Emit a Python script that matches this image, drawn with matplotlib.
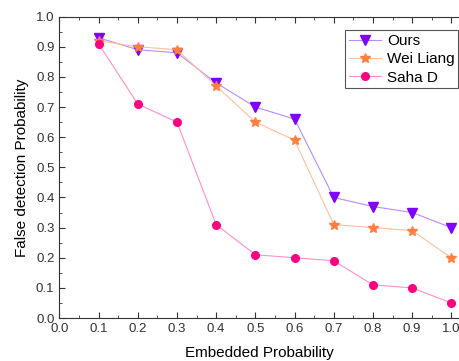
import matplotlib
matplotlib.use("Agg")
import matplotlib.pyplot as plt
from matplotlib.ticker import MultipleLocator

plt.rcParams["font.family"] = ["Liberation Sans", "DejaVu Sans"]

embedded = [0.1, 0.2, 0.3, 0.4, 0.5, 0.6, 0.7, 0.8, 0.9, 1.0]
ours = [0.93, 0.89, 0.88, 0.78, 0.70, 0.66, 0.40, 0.37, 0.35, 0.30]
wei_liang = [0.92, 0.90, 0.89, 0.77, 0.65, 0.59, 0.31, 0.30, 0.29, 0.20]
saha_d = [0.91, 0.71, 0.65, 0.31, 0.21, 0.20, 0.19, 0.11, 0.10, 0.05]

fig = plt.figure(figsize=(4.6, 3.61), dpi=100)
ax = fig.add_axes([0.129, 0.119, 0.871, 0.835])

ax.plot(embedded, ours, color="#b78cff", lw=0.8, marker="v", ms=6.5,
        mfc="#7f00ff", mec="#7f00ff", label="Ours")
ax.plot(embedded, wei_liang, color="#ffbf9f", lw=0.8, marker="*", ms=7,
        mfc="#ff7f3f", mec="#ff7f3f", label="Wei Liang")
ax.plot(embedded, saha_d, color="#ff8fc8", lw=0.8, marker="o", ms=5.5,
        mfc="#ff0080", mec="#ff0080", label="Saha D")

ax.set_xlim(0, 1.022)
ax.set_ylim(0, 1.0)
ax.xaxis.set_major_locator(MultipleLocator(0.1))
ax.xaxis.set_minor_locator(MultipleLocator(0.05))
ax.yaxis.set_major_locator(MultipleLocator(0.1))
ax.yaxis.set_minor_locator(MultipleLocator(0.05))
ax.tick_params(which="both", direction="in", top=True, right=False, labelsize=9.5, colors="#333333")
ax.tick_params(which="major", length=4)
ax.tick_params(which="minor", length=2)
ax.spines["right"].set_visible(False)
for s in ("left", "top", "bottom"):
    ax.spines[s].set_color("#333333")

ax.set_xlabel("Embedded Probability", fontsize=11, labelpad=8)
ax.set_ylabel("False detection Probability", fontsize=11, labelpad=5)

leg = ax.legend(loc="upper right", bbox_to_anchor=(1.015, 0.98), fontsize=11,
                fancybox=False, framealpha=1, edgecolor="#555555",
                handlelength=2.1, borderpad=0.25, labelspacing=0.28, handletextpad=0.4)
leg.get_frame().set_linewidth(0.8)

fig.savefig("out.png", dpi=100)
